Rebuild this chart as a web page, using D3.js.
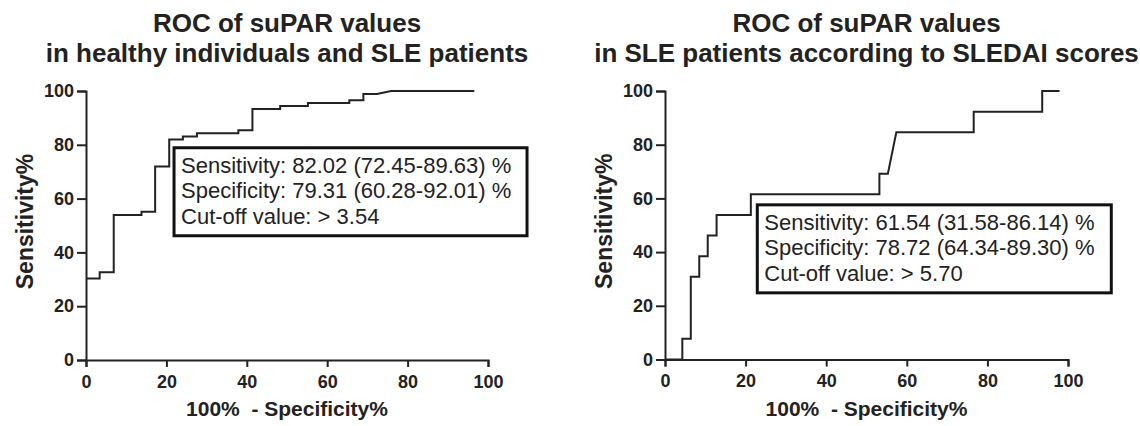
<!DOCTYPE html>
<html>
<head>
<meta charset="utf-8">
<script src="https://cdn.jsdelivr.net/npm/d3@7"></script>
<style>
	body { margin: 0; background: #fff; }
	svg { display: block; font-family: "Liberation Sans", Arial, sans-serif; }
</style>
</head>
<body>
<svg width="1140" height="426"></svg>
<script>
// ROC points, 100% - specificity% (x) and sensitivity% (y)
var healthyFpr = [0, 3.4, 3.4, 6.9, 6.9, 13.8, 13.8, 17.2, 17.2, 20.7, 20.7, 24.1, 24.1, 27.6, 27.6, 37.9, 37.9, 41.4, 41.4, 48.3, 48.3, 55.2, 55.2, 65.5, 65.5, 69.0, 69.0, 72.4, 75.9, 96.6];
var healthySens = [30.3, 30.3, 32.6, 32.6, 53.9, 53.9, 55.1, 55.1, 71.9, 71.9, 82.0, 82.0, 83.1, 83.1, 84.3, 84.3, 85.4, 85.4, 93.3, 93.3, 94.4, 94.4, 95.5, 95.5, 96.6, 96.6, 98.9, 98.9, 100, 100];

var sledaiFpr = [0, 4.3, 4.3, 6.4, 6.4, 8.5, 8.5, 10.6, 10.6, 12.8, 12.8, 21.3, 21.3, 53.2, 53.2, 55.3, 57.4, 76.6, 76.6, 93.6, 93.6, 97.9];
var sledaiSens = [0, 0, 7.7, 7.7, 30.8, 30.8, 38.5, 38.5, 46.2, 46.2, 53.8, 53.8, 61.5, 61.5, 69.2, 69.2, 84.6, 84.6, 92.3, 92.3, 100, 100];

var tickValues = [0, 20, 40, 60, 80, 100];

var leftTitle = ["ROC of suPAR values", "in healthy individuals and SLE patients"];
var rightTitle = ["ROC of suPAR values", "in SLE patients according to SLEDAI scores"];

var leftBox = ["Sensitivity: 82.02 (72.45-89.63) %", "Specificity: 79.31 (60.28-92.01) %", "Cut-off value: > 3.54"];
var rightBox = ["Sensitivity: 61.54 (31.58-86.14) %", "Specificity: 78.72 (64.34-89.30) %", "Cut-off value: > 5.70"];

var ink = "#222";

function drawPanel(svg, opt) {
	var x = d3.scaleLinear().domain([0, 100]).range([opt.x0, opt.x1]);
	var y = d3.scaleLinear().domain([0, 100]).range([opt.y0, opt.y1]);
	var g = svg.append("g");

	//axes
	var xAxis = g.append("g")
		.attr("transform", "translate(0," + opt.y0 + ")")
		.call(d3.axisBottom(x).tickValues(tickValues).tickSizeOuter(0).tickSize(7).tickPadding(8));
	var yAxis = g.append("g")
		.attr("transform", "translate(" + opt.x0 + ",0)")
		.call(d3.axisLeft(y).tickValues(tickValues).tickSizeOuter(0).tickSize(9).tickPadding(3));
	[xAxis, yAxis].forEach(function (a) {
		a.select(".domain").attr("stroke", ink).attr("stroke-width", 2);
		a.selectAll(".tick line").attr("stroke", ink).attr("stroke-width", 2);
		a.selectAll(".tick text")
			.attr("fill", ink)
			.style("font-size", "18px")
			.style("font-weight", "bold")
			.style("font-family", "'Liberation Sans', Arial, sans-serif");
	});

	//curve
	var pts = opt.fpr.map(function (d, i) { return [d, opt.sens[i]]; });
	g.append("path")
		.datum(pts)
		.attr("fill", "none")
		.attr("stroke", ink)
		.attr("stroke-width", 2)
		.attr("d", d3.line().x(function (d) { return x(d[0]); }).y(function (d) { return y(d[1]); }));

	//titles
	var cx = (opt.x0 + opt.x1) / 2;
	g.selectAll("text.title")
		.data(opt.title)
		.enter().append("text")
		.attr("class", "title")
		.attr("x", cx)
		.attr("y", function (d, i) { return 32 + i * 30; })
		.attr("text-anchor", "middle")
		.attr("fill", ink)
		.style("font-size", "26px")
		.style("font-weight", "bold")
		.text(function (d) { return d; });

	//axis labels
	g.append("text")
		.attr("x", cx)
		.attr("y", 416)
		.attr("text-anchor", "middle")
		.attr("fill", ink)
		.style("font-size", "21px")
		.style("font-weight", "bold")
		.style("white-space", "pre")
		.text("100%  - Specificity%");
	g.append("text")
		.attr("transform", "translate(" + (opt.x0 - 53) + "," + ((opt.y0 + opt.y1) / 2 - 4) + ") rotate(-90)")
		.attr("text-anchor", "middle")
		.attr("fill", ink)
		.style("font-size", "23px")
		.style("font-weight", "bold")
		.text("Sensitivity%");

	//result box
	var bx = x(opt.boxAt[0]), by = y(opt.boxAt[1]);
	g.append("rect")
		.attr("x", bx)
		.attr("y", by)
		.attr("width", opt.boxW)
		.attr("height", 88)
		.attr("fill", "#fff")
		.attr("stroke", "#111")
		.attr("stroke-width", 3);
	g.selectAll("text.box")
		.data(opt.box)
		.enter().append("text")
		.attr("class", "box")
		.attr("x", bx + 7)
		.attr("y", function (d, i) { return by + 25 + i * 25.5; })
		.attr("fill", ink)
		.style("font-size", "22px")
		.text(function (d) { return d; });
}

var svg = d3.select("svg");

drawPanel(svg, {
	x0: 86, x1: 488, y0: 360, y1: 91,
	fpr: healthyFpr, sens: healthySens,
	title: leftTitle,
	box: leftBox, boxAt: [21.9, 78.9], boxW: 353
});

drawPanel(svg, {
	x0: 665, x1: 1068, y0: 359.5, y1: 91,
	fpr: sledaiFpr, sens: sledaiSens,
	title: rightTitle,
	box: rightBox, boxAt: [22.9, 57.6], boxW: 354
});
</script>
</body>
</html>
